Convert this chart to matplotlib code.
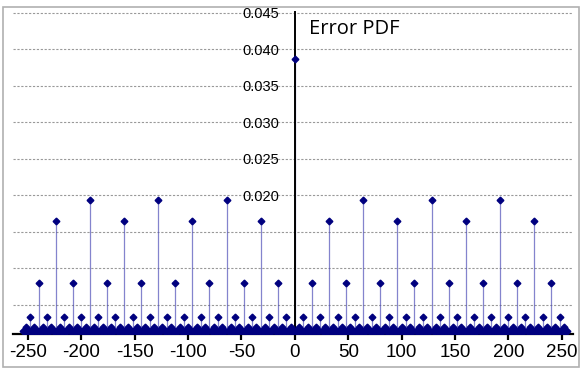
import numpy as np
import matplotlib
matplotlib.use("Agg")
import matplotlib.pyplot as plt
from matplotlib.patches import Rectangle
from matplotlib.ticker import FuncFormatter

# error values covered by the PDF
error_min, error_max = -255, 255

# probability, by how many times the error divides by 2
# (odd, x2, x4, x8, x16, x32, x64 and more)
tier_prob = [0.00145, 0.00145, 0.0020, 0.0033, 0.0080, 0.0165, 0.0194]
zero_prob = 0.0387

x_ticks = [-250, -200, -150, -100, -50, 0, 50, 100, 150, 200, 250]
y_ticks = [0.005, 0.010, 0.015, 0.020, 0.025, 0.030, 0.035, 0.040, 0.045]
y_labelled_from = 0.020


def tier(v):
    v = abs(int(v))
    n = 0
    while v % 2 == 0 and n < len(tier_prob) - 1:
        v //= 2
        n += 1
    return n


errors = np.arange(error_min, error_max + 1)
prob = np.array([zero_prob if e == 0 else tier_prob[tier(e)] for e in errors])

fig = plt.figure(figsize=(5.82, 3.71), dpi=100)
ax = fig.add_axes([13 / 582, 37 / 371, 560 / 582, 322 / 371])

ax.vlines(errors, 0, prob, color="#5050b8", linewidth=0.9, alpha=0.7, zorder=2)
ax.plot(errors, prob, linestyle="none", marker="D", markersize=3.4,
        color="#00007f", zorder=3)

ax.set_xlim(-264, 260.5)
ax.set_ylim(0.001, 0.0451)

# axes cross in the middle like the spreadsheet chart
ax.spines["left"].set_position(("data", 0))
ax.spines["left"].set_linewidth(1.4)
ax.spines["bottom"].set_linewidth(1.6)
ax.spines["right"].set_visible(False)
ax.spines["top"].set_visible(False)

ax.set_xticks(x_ticks)
ax.set_xticklabels([str(t) for t in x_ticks], fontsize=13.5,
                   family="Liberation Sans")
ax.tick_params(axis="x", direction="inout", length=9, width=1.6, pad=3)

ax.set_yticks(y_ticks)
ax.yaxis.set_major_formatter(
    FuncFormatter(lambda v, p: f"{v:.3f}" if v >= y_labelled_from - 1e-9 else ""))
ax.tick_params(axis="y", length=0, pad=11, labelsize=10.5)
for lab in ax.get_yticklabels():
    lab.set_family("Liberation Sans")
ax.yaxis.grid(True, linestyle=(0, (2, 1.5)), color="#999999", linewidth=0.8)
ax.set_axisbelow(True)

ax.text(13, 0.0428, "Error PDF", fontsize=14.5, family="Open Sans",
        ha="left", va="center")

fig.patches.append(Rectangle((3 / 582, 4 / 371), 576 / 582, 360 / 371,
                             transform=fig.transFigure, fill=False,
                             edgecolor="#b0b0b0", linewidth=1.2))

fig.savefig("out.png", dpi=100)
